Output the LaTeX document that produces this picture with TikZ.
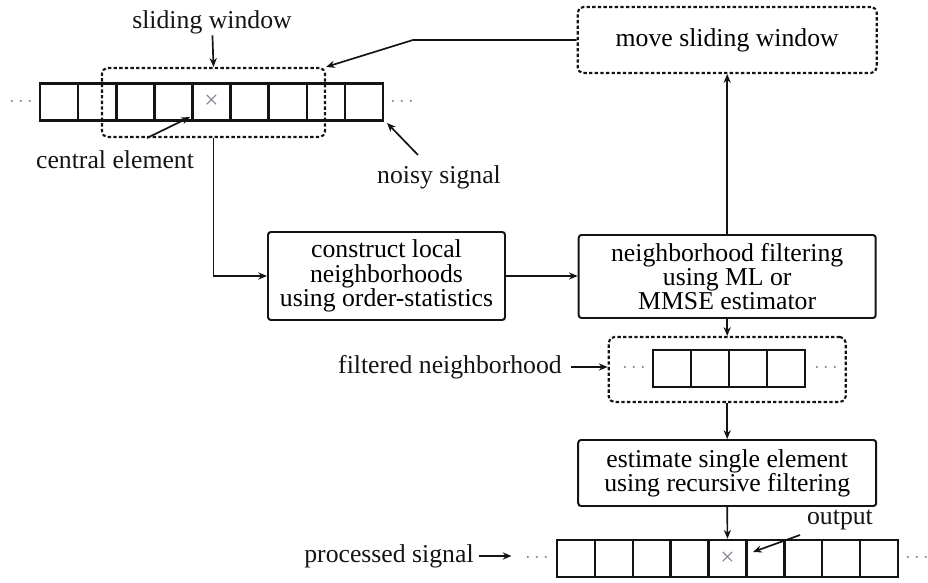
\documentclass[tikz,border=0pt]{standalone}
\usepackage{fontspec}
\setmainfont{Liberation Serif}
\usetikzlibrary{arrows.meta,positioning,calc}
\definecolor{ink}{RGB}{20,20,20}
\definecolor{mark}{RGB}{130,130,140}
\tikzset{
  >={Stealth[length=2.2mm,width=1.8mm]},
  cell/.style={draw=ink,line width=1.8pt,minimum width=0.953cm,minimum height=0.925cm,
    inner sep=0pt},
  blk/.style={draw=ink,line width=1.4pt,rounded corners=2pt,align=center,inner sep=2pt},
  win/.style={draw=ink,line width=1.5pt,dash pattern=on 2.4pt off 1.6pt,rounded corners=4pt,
    inner sep=0pt,align=center},
  flow/.style={->,line width=1.2pt,draw=ink},
  tag/.style={text=ink,inner sep=1pt},
  dots/.style={text=mark,font=\fontsize{14}{14}\selectfont,inner sep=1pt},
  cross/.style={text=mark,font=\fontsize{18}{18}\selectfont,inner sep=0pt},
}
\begin{document}
\begin{tikzpicture}[font=\fontsize{18.3}{17.2}\selectfont]
  \useasboundingbox (0,0) rectangle (23.2,14.575);
  % noisy signal and sliding window
  \foreach \i in {1,...,9} \node[cell] (s\i) at ({1.0+(\i-0.5)*0.953},12.025) {};
  \node[cross] (sx) at (s5) {×};
  \node[dots] (sdl) at (0.525,12.025) {$\cdots$};
  \node[dots] (sdr) at (10.05,12.025) {$\cdots$};
  \node[win,minimum width=5.575cm,minimum height=1.725cm] (win) at (5.3375,12.0125) {};
  \node[tag] (slid) at (5.3,14.025) {sliding window};
  \node[tag] (cent) at (2.875,10.575) {central element};
  \node[tag] (noisy) at (10.975,10.15) {noisy signal};
  \coordinate (centtail) at (3.675,11.125);
  \coordinate (centtip) at (4.75,11.65);
  \coordinate (noisytail) at (10.45,10.7);
  \coordinate (noisytip) at (9.675,11.5);
  \draw[flow] (slid) -- (win.north);
  \draw[flow] (centtail) -- (centtip);
  \draw[flow] (noisytail) -- (noisytip);
  % processing blocks
  \node[win,minimum width=7.475cm,minimum height=1.65cm] (move) at (18.18,13.575) {move sliding window};
  \node[blk,minimum width=5.925cm,minimum height=2.2cm] (cons) at (9.6625,7.675)
    {construct local\\neighborhoods\\using order-statistics};
  \node[blk,minimum width=7.425cm,minimum height=2.075cm] (nf) at (18.18,7.6625)
    {neighborhood filtering\\using ML or\\MMSE estimator};
  \node[win,minimum width=5.925cm,minimum height=1.625cm] (filt) at (18.18,5.3375) {};
  \foreach \i in {1,...,4} \node[cell,minimum width=0.95cm] (f\i) at ({16.325+(\i-0.5)*0.95},5.3625) {};
  \node[dots] (fdl) at (15.85,5.375) {$\cdots$};
  \node[dots] (fdr) at (20.65,5.375) {$\cdots$};
  \node[tag] (filtlbl) at (11.25,5.4) {filtered neighborhood};
  \node[blk,minimum width=7.45cm,minimum height=1.65cm] (est) at (18.18,2.75)
    {estimate single element\\using recursive filtering};
  % processed signal
  \foreach \i in {1,...,9} \node[cell,minimum width=0.947cm] (p\i) at ({13.925+(\i-0.5)*0.947},0.6125) {};
  \node[cross] (px) at (p5) {×};
  \node[dots] (pdl) at (13.425,0.6125) {$\cdots$};
  \node[dots] (pdr) at (22.925,0.6125) {$\cdots$};
  \node[tag] (proc) at (9.725,0.675) {processed signal};
  \node[tag] (outlbl) at (21.0,1.575) {output};
  \coordinate (outtail) at (20.0,1.2);
  \coordinate (outtip) at (18.825,0.775);
  \coordinate (bend) at (10.325,13.575);
  % connectors
  \draw[flow] (move.west) -- (bend) -- (win.north east);
  \draw[flow] (win.south) |- (cons.west);
  \draw[flow] (cons.east) -- (cons.east -| nf.west);
  \draw[flow] (nf.north) -- (move.south);
  \draw[flow] (nf.south) -- (filt.north);
  \draw[flow,shorten <=0.2cm] (filtlbl.east) -- (filtlbl.east -| filt.west);
  \draw[flow] (filt.south) -- (est.north);
  \draw[flow] (est.south) -- (p5.north);
  \draw[flow,shorten <=0.1cm,shorten >=0.3cm] (proc.east) -- (proc.east -| pdl.west);
  \draw[flow] (outtail) -- (outtip);
\end{tikzpicture}
\end{document}
